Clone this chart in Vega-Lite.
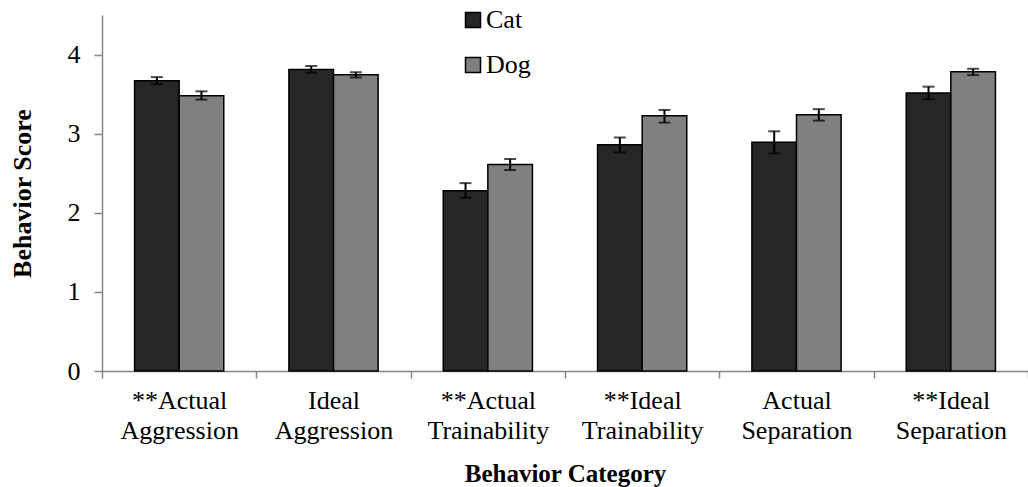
{
  "$schema": "https://vega.github.io/schema/vega-lite/v6.json",
  "width": 926,
  "height": 356,
  "autosize": {"type": "none"},
  "padding": {"left": 102, "top": 15, "right": 0, "bottom": 116},
  "background": "white",
  "config": {
    "view": {"stroke": null},
    "font": "Liberation Serif"
  },
  "data": {
    "values": [
      {"category": "**Actual Aggression", "animal": "Cat", "score": 3.67, "lo": 3.625, "hi": 3.715},
      {"category": "**Actual Aggression", "animal": "Dog", "score": 3.48, "lo": 3.43, "hi": 3.535},
      {"category": "Ideal Aggression", "animal": "Cat", "score": 3.81, "lo": 3.77, "hi": 3.855},
      {"category": "Ideal Aggression", "animal": "Dog", "score": 3.745, "lo": 3.71, "hi": 3.775},
      {"category": "**Actual Trainability", "animal": "Cat", "score": 2.28, "lo": 2.19, "hi": 2.375},
      {"category": "**Actual Trainability", "animal": "Dog", "score": 2.61, "lo": 2.54, "hi": 2.68},
      {"category": "**Ideal Trainability", "animal": "Cat", "score": 2.86, "lo": 2.765, "hi": 2.95},
      {"category": "**Ideal Trainability", "animal": "Dog", "score": 3.225, "lo": 3.14, "hi": 3.3},
      {"category": "Actual Separation", "animal": "Cat", "score": 2.89, "lo": 2.75, "hi": 3.03},
      {"category": "Actual Separation", "animal": "Dog", "score": 3.24, "lo": 3.165, "hi": 3.31},
      {"category": "**Ideal Separation", "animal": "Cat", "score": 3.515, "lo": 3.434, "hi": 3.594},
      {"category": "**Ideal Separation", "animal": "Dog", "score": 3.783, "lo": 3.74, "hi": 3.82}
    ]
  },
  "encoding": {
    "x": {
      "field": "category",
      "type": "nominal",
      "sort": null,
      "scale": {"paddingInner": 0, "paddingOuter": 0},
      "axis": {
        "title": "Behavior Category",
        "titleFont": "Liberation Serif",
        "titleFontWeight": "bold",
        "titleFontSize": 25,
        "titleColor": "black",
        "titleY": 110,
        "titleBaseline": "alphabetic",
        "labelAngle": 0,
        "labelExpr": "datum.value ? split(datum.value, ' ') : ''",
        "labelFont": "Liberation Serif",
        "labelFontSize": 26,
        "labelColor": "black",
        "labelLineHeight": 30,
        "labelPadding": 9,
        "tickBand": "extent",
        "tickSize": 7,
        "tickColor": "#868686",
        "domainColor": "#868686",
        "domainWidth": 1.5,
        "tickWidth": 1.5,
        "grid": false
      }
    },
    "xOffset": {
      "field": "animal",
      "type": "nominal",
      "scale": {"paddingInner": 0, "paddingOuter": 0.73}
    }
  },
  "layer": [
    {
      "mark": {"type": "bar", "stroke": "black", "strokeWidth": 1.5},
      "encoding": {
        "y": {
          "field": "score",
          "type": "quantitative",
          "scale": {"domain": [0, 4.5], "nice": false, "zero": true},
          "axis": {
            "title": "Behavior Score",
            "titleFont": "Liberation Serif",
            "titleFontWeight": "bold",
            "titleFontSize": 26,
            "titleColor": "black",
            "titleX": -80,
            "titleY": 178,
            "titleAlign": "center",
            "titleBaseline": "middle",
            "values": [0, 1, 2, 3, 4],
            "format": "d",
            "labelFont": "Liberation Serif",
            "labelFontSize": 26,
            "labelColor": "black",
            "labelPadding": 14,
            "tickSize": 8,
            "tickColor": "#868686",
            "domainColor": "#868686",
            "domainWidth": 1.5,
            "tickWidth": 1.5,
            "grid": false
          }
        },
        "color": {
          "field": "animal",
          "type": "nominal",
          "scale": {"domain": ["Cat", "Dog"], "range": ["#262626", "#808080"]},
          "legend": {
            "title": null,
            "orient": "none",
            "legendX": 358,
            "legendY": -8,
            "symbolType": "square",
            "symbolSize": 225,
            "symbolStrokeColor": "black",
            "symbolStrokeWidth": 1.5,
            "labelFont": "Liberation Serif",
            "labelFontSize": 26,
            "labelColor": "black",
            "labelOffset": 0,
            "rowPadding": 19
          }
        }
      }
    },
    {
      "mark": {"type": "rule", "color": "black", "strokeWidth": 2},
      "encoding": {
        "y": {"field": "lo", "type": "quantitative"},
        "y2": {"field": "hi"}
      }
    },
    {
      "mark": {"type": "tick", "color": "black", "thickness": 2, "size": 12, "orient": "horizontal"},
      "encoding": {
        "y": {"field": "lo", "type": "quantitative"}
      }
    },
    {
      "mark": {"type": "tick", "color": "black", "thickness": 2, "size": 12, "orient": "horizontal"},
      "encoding": {
        "y": {"field": "hi", "type": "quantitative"}
      }
    }
  ]
}
